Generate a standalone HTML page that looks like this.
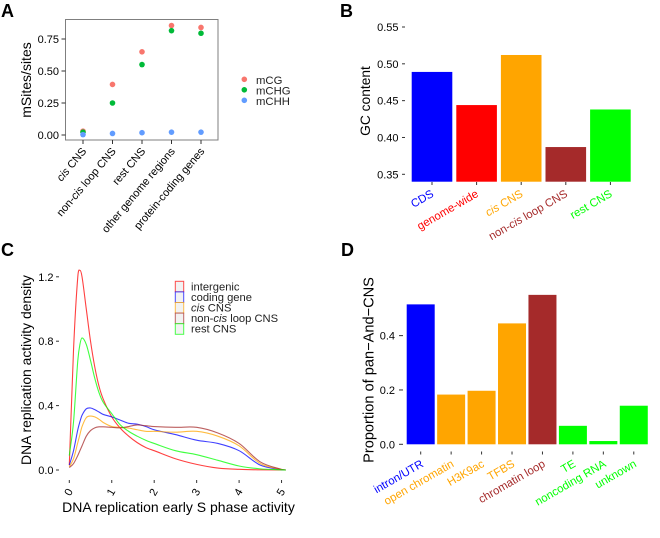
<!DOCTYPE html>
<html lang="en">
<head>
<meta charset="utf-8">
<title>Four panel genomic chart</title>
<style>
html,body{margin:0;padding:0;background:#fff;}
svg{display:block;font-family:"Liberation Sans",Arial,sans-serif;filter:blur(0.3px);}
</style>
</head>
<body>
<svg id="fig" width="660" height="538" viewBox="0 0 660 538" xmlns="http://www.w3.org/2000/svg">
  <rect x="0" y="0" width="660" height="538" fill="#fff"/>
  <text x="1" y="17" font-size="18" font-weight="bold">A</text>
  <text x="340" y="17" font-size="18" font-weight="bold">B</text>
  <text x="1" y="256" font-size="18" font-weight="bold">C</text>
  <text x="341" y="256" font-size="18" font-weight="bold">D</text>
  <text transform="translate(31 80) rotate(-90)" text-anchor="middle" font-size="14">mSites/sites</text>
  <text transform="translate(370 101) rotate(-90)" text-anchor="middle" font-size="13.8">GC content</text>
  <text transform="translate(31 370) rotate(-90)" text-anchor="middle" font-size="13.9">DNA replication activity density</text>
  <text x="178.5" y="512" text-anchor="middle" font-size="14">DNA replication early S phase activity</text>
  <text transform="translate(373.5 370) rotate(-90)" text-anchor="middle" font-size="14.6">Proportion of pan−And−CNS</text>
  <g id="panelA"></g>
  <g id="panelB"></g>
  <g id="panelC"></g>
  <g id="panelD"></g>
</svg>
<script>
// Panel A data
const aCategories = ["cis CNS", "non-cis loop CNS", "rest CNS", "other genome regions", "protein-coding genes"];
const aSeriesNames = ["mCG", "mCHG", "mCHH"];
const aMCG = [0.03, 0.395, 0.65, 0.855, 0.84];
const aMCHG = [0.022, 0.25, 0.55, 0.815, 0.795];
const aMCHH = [0.003, 0.012, 0.018, 0.022, 0.022];
const aTicks = [0, 0.25, 0.5, 0.75];
const aTickLabels = ["0.00", "0.25", "0.50", "0.75"];

// Panel B data
const bCategories = ["CDS", "genome-wide", "cis CNS", "non-cis loop CNS", "rest CNS"];
const bValues = [0.489, 0.444, 0.512, 0.387, 0.438];
const bTicks = [0.35, 0.4, 0.45, 0.5, 0.55];
const bTickLabels = ["0.35", "0.40", "0.45", "0.50", "0.55"];

// Panel C data
const cSeriesNames = ["intergenic", "coding gene", "cis CNS", "non-cis loop CNS", "rest CNS"];
const cGrid = [0, 0.1, 0.2, 0.25, 0.3, 0.4, 0.5, 0.6, 0.7, 0.8, 1, 1.2, 1.4, 1.6, 1.8, 2, 2.5, 3, 3.5, 4, 4.5, 5, 5.1];
const cIntergenic = [0.03, 0.75, 1.2, 1.24, 1.2, 1.0, 0.8, 0.64, 0.52, 0.44, 0.33, 0.26, 0.21, 0.17, 0.14, 0.12, 0.07, 0.035, 0.012, 0.004, 0.001, 0, 0];
const cCoding = [0.03, 0.12, 0.25, 0.3, 0.34, 0.38, 0.385, 0.375, 0.36, 0.345, 0.33, 0.31, 0.29, 0.285, 0.27, 0.25, 0.22, 0.185, 0.165, 0.12, 0.03, 0.002, 0];
const cCis = [0.02, 0.07, 0.17, 0.22, 0.27, 0.325, 0.335, 0.33, 0.315, 0.295, 0.27, 0.265, 0.26, 0.25, 0.24, 0.24, 0.235, 0.24, 0.21, 0.15, 0.04, 0.003, 0];
const cLoop = [0.015, 0.04, 0.09, 0.12, 0.15, 0.21, 0.245, 0.262, 0.268, 0.268, 0.265, 0.262, 0.27, 0.28, 0.275, 0.27, 0.265, 0.265, 0.23, 0.165, 0.05, 0.004, 0];
const cRest = [0.09, 0.3, 0.68, 0.78, 0.82, 0.78, 0.68, 0.57, 0.48, 0.42, 0.35, 0.28, 0.24, 0.21, 0.185, 0.165, 0.12, 0.095, 0.06, 0.025, 0.007, 0.001, 0];
const cXTicks = [0, 1, 2, 3, 4, 5];
const cYTicks = [0, 0.4, 0.8, 1.2];
const cYTickLabels = ["0.0", "0.4", "0.8", "1.2"];

// Panel D data
const dCategories = ["intron/UTR", "open chromatin", "H3K9ac", "TFBS", "chromatin loop", "TE", "noncoding RNA", "unknown"];
const dValues = [0.515, 0.183, 0.197, 0.445, 0.55, 0.068, 0.012, 0.142];
const dTicks = [0, 0.2, 0.4];
const dTickLabels = ["0.0", "0.2", "0.4"];

const NS = "http://www.w3.org/2000/svg";
const TICK = "#333";

function mk(parent, tag, attrs, name) {
  const el = document.createElementNS(NS, tag);
  for (const k in attrs) el.setAttribute(k, attrs[k]);
  
  
  parent.appendChild(el);
  return el;
}
// Writes a label with the word "cis" in italics
function label(el, str) {
  str.split(/(cis)/).forEach(function (part) {
    if (!part) return;
    const t = document.createElementNS(NS, "tspan");
    if (part === "cis") t.setAttribute("font-style", "italic");
    t.textContent = part;
    el.appendChild(t);
  });
}
function slug(s) {
  return s.toLowerCase().replace(/[^a-z0-9]+/g, "-");
}

/* ---------- Panel A ---------- */
(function () {
  const g = document.getElementById("panelA");
  const xA = i => 83 + i * 29.5;
  const yA = v => 135 - v * 128;
  mk(g, "rect", {x: 65.5, y: 19.5, width: 152.5, height: 120.5, fill: "#fff", stroke: "#7f7f7f", "stroke-width": 1}, "a-plot-frame");
  aTicks.forEach((t, i) => {
    mk(g, "line", {x1: 61.5, x2: 65.5, y1: yA(t), y2: yA(t), stroke: TICK}, "a-y-tick");
    const tx = mk(g, "text", {x: 59, y: yA(t) + 4, "text-anchor": "end", "font-size": 11}, "a-y-tick-label");
    tx.textContent = aTickLabels[i];
  });
  aCategories.forEach((c, i) => {
    mk(g, "line", {x1: xA(i), x2: xA(i), y1: 140, y2: 144, stroke: TICK}, "a-x-tick");
    const tx = mk(g, "text", {"text-anchor": "end", "font-size": 11, transform: "translate(" + (xA(i) + 4) + " 151.5) rotate(-50)"}, "a-x-label-" + slug(c));
    label(tx, c);
  });
  const series = [aMCG, aMCHG, aMCHH];
  const colors = ["#F8766D", "#00BA38", "#619CFF"];
  series.forEach((vals, s) => {
    vals.forEach((v, i) => {
      mk(g, "circle", {cx: xA(i), cy: yA(v), r: 2.8, fill: colors[s]}, "a-point-" + slug(aSeriesNames[s]));
    });
    mk(g, "circle", {cx: 244.3, cy: 79.3 + s * 10.5, r: 2.8, fill: colors[s]}, "a-legend-key-" + slug(aSeriesNames[s]));
    const tx = mk(g, "text", {x: 256, y: 83.8 + s * 10.5, "font-size": 11.3, fill: "#222"}, "a-legend-label-" + slug(aSeriesNames[s]));
    tx.textContent = aSeriesNames[s];
  });
})();

/* ---------- Panel B ---------- */
(function () {
  const g = document.getElementById("panelB");
  const colors = ["#0000ff", "#ff0000", "#ffa500", "#a52a2a", "#00ff00"];
  const xB = i => 432 + i * 44.6;
  const yB = v => 174.3 - (v - 0.35) * 736.5;
  bTicks.forEach((t, i) => {
    mk(g, "line", {x1: 402, x2: 405, y1: yB(t), y2: yB(t), stroke: TICK}, "b-y-tick");
    const tx = mk(g, "text", {x: 398.5, y: yB(t) + 4, "text-anchor": "end", "font-size": 11}, "b-y-tick-label");
    tx.textContent = bTickLabels[i];
  });
  bCategories.forEach((c, i) => {
    mk(g, "rect", {x: xB(i) - 20.3, y: yB(bValues[i]), width: 40.6, height: 181.7 - yB(bValues[i]), fill: colors[i]}, "b-bar-" + slug(c));
    mk(g, "line", {x1: xB(i), x2: xB(i), y1: 182, y2: 185, stroke: TICK}, "b-x-tick");
    const tx = mk(g, "text", {"text-anchor": "end", "font-size": 11.4, fill: colors[i], transform: "translate(" + (xB(i) + 2.5) + " 196) rotate(-30)"}, "b-x-label-" + slug(c));
    label(tx, c);
  });
})();

/* ---------- Panel C ---------- */
(function () {
  const g = document.getElementById("panelC");
  const xC = v => 69.3 + v * 42.45;
  const yC = v => 470 - v * 161;
  cYTicks.forEach((t, i) => {
    mk(g, "line", {x1: 56, x2: 59, y1: yC(t), y2: yC(t), stroke: TICK}, "c-y-tick");
    const tx = mk(g, "text", {x: 53.5, y: yC(t) + 4, "text-anchor": "end", "font-size": 11}, "c-y-tick-label");
    tx.textContent = cYTickLabels[i];
  });
  cXTicks.forEach(t => {
    mk(g, "line", {x1: xC(t), x2: xC(t), y1: 480, y2: 483, stroke: TICK}, "c-x-tick");
    const tx = mk(g, "text", {"text-anchor": "middle", "font-size": 11, transform: "translate(" + (xC(t) - 1) + " 492) rotate(-60) translate(0 4)"}, "c-x-tick-label");
    tx.textContent = String(t);
  });
  const series = [cIntergenic, cCoding, cCis, cLoop, cRest];
  const colors = ["#ff0000", "#0000ff", "#ffa500", "#a52a2a", "#00ff00"];
  function curve(vals) {
    const p = vals.map((v, i) => [xC(cGrid[i]), yC(v)]);
    let d = "M" + p[0][0].toFixed(2) + " " + p[0][1].toFixed(2);
    for (let i = 0; i < p.length - 1; i++) {
      const a = p[Math.max(i - 1, 0)], b = p[i], c = p[i + 1], e = p[Math.min(i + 2, p.length - 1)];
      const t0 = (c[0] - a[0]) || 1, t1 = (e[0] - b[0]) || 1;
      const m0 = (c[1] - a[1]) / t0, m1 = (e[1] - b[1]) / t1;
      const h = (c[0] - b[0]) / 3;
      d += "C" + (b[0] + h).toFixed(2) + " " + (b[1] + m0 * h).toFixed(2) + " " +
        (c[0] - h).toFixed(2) + " " + (c[1] - m1 * h).toFixed(2) + " " +
        c[0].toFixed(2) + " " + c[1].toFixed(2);
    }
    return d;
  }
  series.forEach((vals, s) => {
    mk(g, "path", {d: curve(vals), fill: "none", stroke: colors[s], "stroke-width": 1.1, "stroke-opacity": 0.75}, "c-line-" + slug(cSeriesNames[s]));
  });
  cSeriesNames.forEach((n, s) => {
    mk(g, "rect", {x: 175.3, y: 281.3 + s * 10.6, width: 8.4, height: 10.6, fill: "#f2f2f2", stroke: colors[s], "stroke-width": 1, "stroke-opacity": 0.7}, "c-legend-key-" + slug(n));
    const tx = mk(g, "text", {x: 191, y: 290.3 + s * 10.6, "font-size": 11.2, fill: "#222"}, "c-legend-label-" + slug(n));
    label(tx, n);
  });
})();

/* ---------- Panel D ---------- */
(function () {
  const g = document.getElementById("panelD");
  const colors = ["#0000ff", "#ffa500", "#ffa500", "#ffa500", "#a52a2a", "#00ff00", "#00ff00", "#00ff00"];
  const xD = i => 420.7 + i * 30.44;
  const yD = v => 444.3 - v * 271.7;
  dTicks.forEach((t, i) => {
    mk(g, "line", {x1: 399, x2: 403, y1: yD(t), y2: yD(t), stroke: TICK}, "d-y-tick");
    const tx = mk(g, "text", {x: 395, y: yD(t) + 4, "text-anchor": "end", "font-size": 11}, "d-y-tick-label");
    tx.textContent = dTickLabels[i];
  });
  dCategories.forEach((c, i) => {
    mk(g, "rect", {x: xD(i) - 14, y: yD(dValues[i]), width: 28, height: 444.3 - yD(dValues[i]), fill: colors[i]}, "d-bar-" + slug(c));
    mk(g, "line", {x1: xD(i), x2: xD(i), y1: 451.5, y2: 454.5, stroke: TICK}, "d-x-tick");
    const tx = mk(g, "text", {"text-anchor": "end", "font-size": 11.4, fill: colors[i], transform: "translate(" + (xD(i) + 3.5) + " 466) rotate(-30)"}, "d-x-label-" + slug(c));
    label(tx, c);
  });
})();
</script>
</body>
</html>
